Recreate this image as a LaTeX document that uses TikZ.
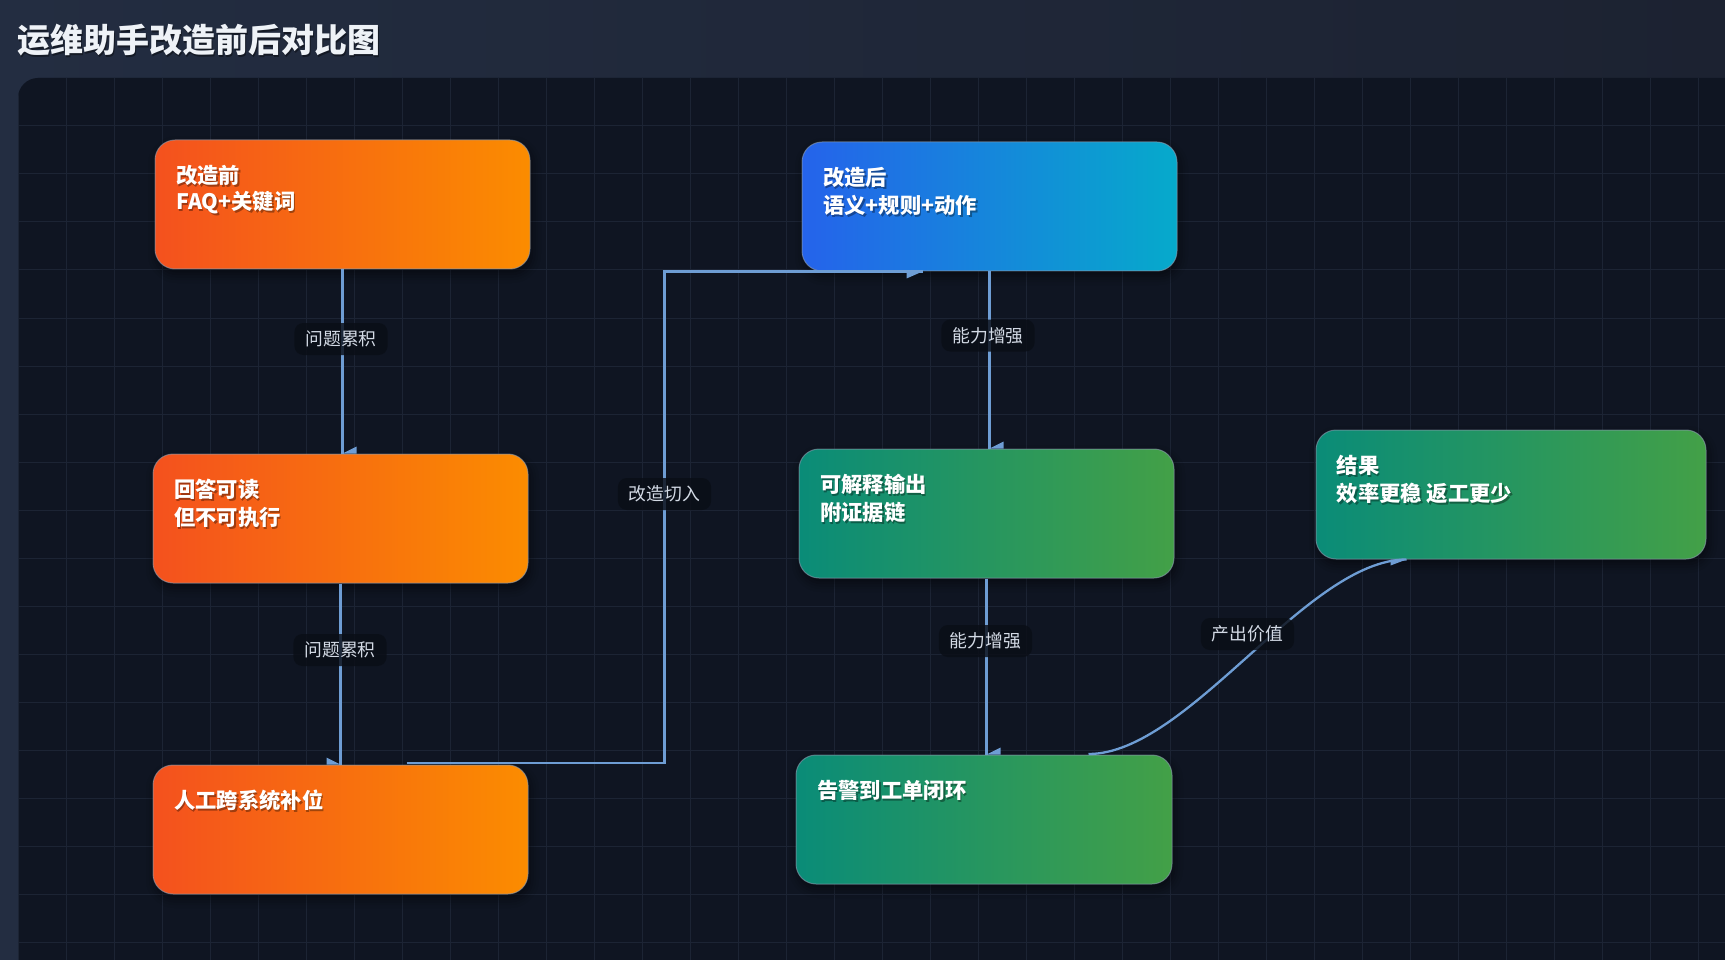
\documentclass[tikz,border=0pt]{standalone}
\usepackage{fontspec}
\setmainfont{Noto Sans CJK SC}
\usetikzlibrary{calc,shadows.blur}
\definecolor{hdrL}{HTML}{232D41}
\definecolor{hdrR}{HTML}{1C2231}
\definecolor{panelc}{HTML}{0F1522}
\definecolor{gridc}{HTML}{1C2434}
\definecolor{edgec}{HTML}{6E9DD4}
\definecolor{orL}{HTML}{F4511E}
\definecolor{orR}{HTML}{FB8C00}
\definecolor{blL}{HTML}{2563EB}
\definecolor{blR}{HTML}{06AACB}
\definecolor{grL}{HTML}{0A8C78}
\definecolor{grR}{HTML}{43A047}
\definecolor{lblfill}{HTML}{0A0E16}
\definecolor{lbltext}{HTML}{D3DAE5}
\definecolor{bordc}{HTML}{8A9AAE}
\definecolor{titlec}{HTML}{EEF2F7}
\tikzset{
  box/.style={rectangle, rounded corners=20pt, minimum width=375pt, minimum height=129pt,
    inner sep=0pt, draw=bordc, draw opacity=0.6, line width=1pt,
    blur shadow={shadow xshift=2pt, shadow yshift=-5pt, shadow blur radius=9pt, shadow opacity=50}},
  orangebox/.style={box, left color=orL, right color=orR},
  bluebox/.style={box, left color=blL, right color=blR},
  greenbox/.style={box, left color=grL, right color=grR},
  btxt/.style={anchor=west, inner sep=0pt, text=white, font=\fontsize{21.3}{25}\selectfont\bfseries},
  btxtsh/.style={btxt, text=black, text opacity=0.35},
  edge/.style={draw=edgec, line width=2.3pt},
  tip/.style={fill=edgec},
  lbl/.style={rectangle, rounded corners=9pt, fill=lblfill, fill opacity=0.82, text opacity=1,
    text=lbltext, font=\fontsize{17.8}{20}\selectfont, inner xsep=11pt, inner ysep=0pt,
    minimum height=32pt}
}
\newcommand\boxline[3]{%
  \node[btxtsh, xshift=1.5pt, yshift=-2pt] at (#1) {#2};
  \node[btxt] (#3) at (#1) {#2};
}
\begin{document}
\begin{tikzpicture}[x=1pt,y=-1pt]
\useasboundingbox (0,0) rectangle (1725,960);
\clip (0,0) rectangle (1725,960);
% background
\shade[left color=hdrL, right color=hdrR] (0,0) rectangle (1725,960);
% panel
\fill[panelc, rounded corners=20pt] (18,78) rectangle (1780,1020);
\begin{scope}
  \clip[rounded corners=20pt] (18,78) rectangle (1780,1020);
  \foreach \gx in {18,66,...,1730} \draw[gridc, line width=1pt] (\gx,78) -- (\gx,960);
  \foreach \gy in {78,126,...,960} \draw[gridc, line width=1pt] (18,\gy) -- (1725,\gy);
\end{scope}
% title
\node[anchor=west, inner sep=0pt, text=black, text opacity=0.4, font=\fontsize{33}{40}\selectfont\bfseries, xshift=1.5pt, yshift=-2pt] at (17,40) {运维助手改造前后对比图};
\node[anchor=west, inner sep=0pt, text=titlec, font=\fontsize{33}{40}\selectfont\bfseries] (title) at (17,40) {运维助手改造前后对比图};

% boxes
\node[orangebox] (n1) at (342.5,204.5) {};
\node[orangebox] (n2) at (340.5,518.5) {};
\node[orangebox] (n3) at (340.5,829.5) {};
\node[bluebox] (n4) at (989.5,206.5) {};
\node[greenbox] (n5) at (986.5,513.5) {};
\node[greenbox, minimum width=376pt] (n6) at (984,819.5) {};
\node[greenbox, minimum width=390pt] (n7) at (1511,494.5) {};

% box texts
\boxline{$(n1.north west)+(21.5,35.5)$}{改造前}{t1a}
\boxline{$(n1.north west)+(21.5,63.5)$}{FAQ+关键词}{t1b}
\boxline{$(n2.north west)+(21.5,35.5)$}{回答可读}{t2a}
\boxline{$(n2.north west)+(21.5,63.5)$}{但不可执行}{t2b}
\boxline{$(n3.north west)+(21.5,36)$}{人工跨系统补位}{t3a}
\boxline{$(n4.north west)+(21.5,35.5)$}{改造后}{t4a}
\boxline{$(n4.north west)+(21.5,63.5)$}{语义+规则+动作}{t4b}
\boxline{$(n5.north west)+(21.5,35.5)$}{可解释输出}{t5a}
\boxline{$(n5.north west)+(21.5,63.5)$}{附证据链}{t5b}
\boxline{$(n6.north west)+(21.5,35.5)$}{告警到工单闭环}{t6a}
\boxline{$(n7.north west)+(21,35.5)$}{结果}{t7a}
\boxline{$(n7.north west)+(21,63.5)$}{效率更稳 返工更少}{t7b}

% connectors
\draw[edge] (n1.south) -- (n1.south |- n2.north);
\fill[tip] (n1.south |- n2.north) -- ++(14,-7) -- ++(0,7) -- cycle;

\draw[edge] (n2.south) -- (n2.south |- n3.north);
\fill[tip] (n2.south |- n3.north) -- ++(-14,-7) -- ++(0,7) -- cycle;

\coordinate (e3a) at ($(n3.north west)+(254,-1.5)$);
\coordinate (e3b) at ($(n4.south west)+(121,0)$);
\coordinate (e3x) at (664.5,500);
\draw[edge] (e3a) -- (e3a -| e3x) -- (e3x |- e3b) -- (e3b);
\fill[tip] (e3b) -- ++(-16,7) -- ++(0,-7) -- cycle;

\draw[edge] (n4.south) -- (n4.south |- n5.north);
\fill[tip] (n4.south |- n5.north) -- ++(14,-7) -- ++(0,7) -- cycle;

\draw[edge] (n5.south) -- (n5.south |- n6.north);
\fill[tip] (n5.south |- n6.north) -- ++(14,-7) -- ++(0,7) -- cycle;

\coordinate (e6a) at ($(n6.north west)+(293,-0.5)$);
\coordinate (e6b) at ($(n7.south west)+(91,0)$);
\draw[edge] (e6a) .. controls +(100,0) and +(-100,0) .. (e6b);
\fill[tip] (e6b) -- ++(-16,6) -- ++(0,-6) -- cycle;

% labels
\node[lbl] (l1) at (341,339) {问题累积};
\node[lbl] (l2) at (340,650) {问题累积};
\node[lbl] (l3) at (664.5,494) {改造切入};
\node[lbl] (l4) at (988,335.5) {能力增强};
\node[lbl] (l5) at (985.5,641) {能力增强};
\node[lbl] (l6) at (1247.5,634) {产出价值};
\end{tikzpicture}
\end{document}
